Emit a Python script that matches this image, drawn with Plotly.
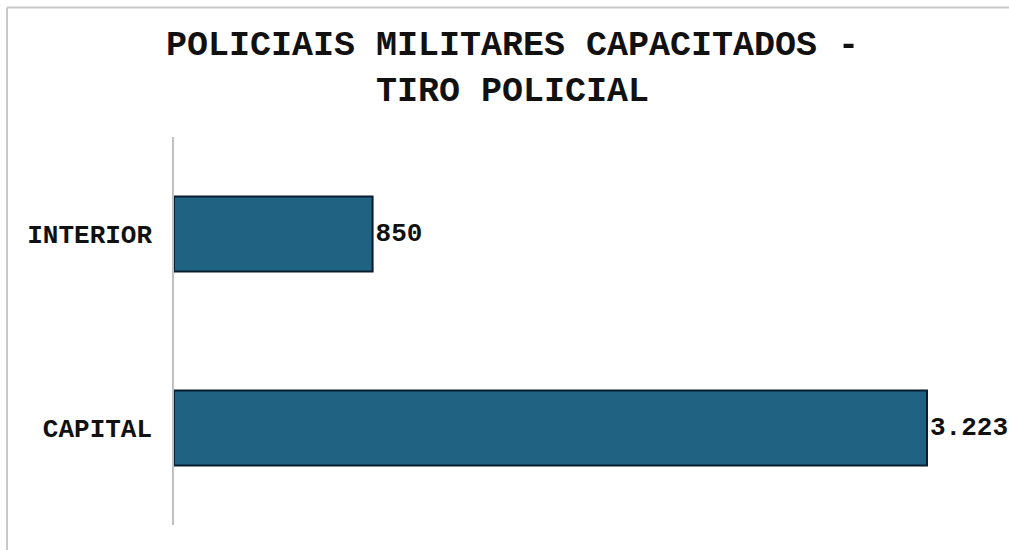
import plotly.graph_objects as go

categories = ["CAPITAL", "INTERIOR"]
values = [3223, 850]
title_lines = ["POLICIAIS MILITARES CAPACITADOS -", "TIRO POLICIAL"]

FONT = "Liberation Mono, Courier New, monospace"

fig = go.Figure(go.Bar(
    x=values, y=categories, orientation="h",
    width=0.387,
    marker=dict(color="#1F6282", line=dict(color="#0B1E30", width=2)),
    texttemplate="<b>%{x:,.0f}</b>", textposition="outside",
    textfont=dict(family=FONT, size=26, color="#111111"),
    cliponaxis=False,
))

fig.update_layout(
    width=1009, height=550,
    separators=",.",
    paper_bgcolor="white", plot_bgcolor="white",
    margin=dict(l=174, r=0, t=137, b=25, autoexpand=False),
    title=dict(text="<b>" + "<br>".join(title_lines) + "</b>",
               x=0.508, xanchor="center", y=0.9, yanchor="middle",
               font=dict(family=FONT, size=35, color="#111111")),
    xaxis=dict(range=[0, 3574], visible=False, showgrid=False),
    yaxis=dict(showline=True, linecolor="#C0C0C0", linewidth=1.5,
               ticks="", ticklabelstandoff=15,
               tickfont=dict(family=FONT, size=26, color="#111111", weight="bold"),
               showgrid=False, range=[-0.5, 1.5]),
    showlegend=False,
    shapes=[
        dict(type="line", xref="paper", yref="paper", x0=-0.2, x1=1.05, y0=1.334, y1=1.334,
             line=dict(color="#C8C8C8", width=2)),
        dict(type="line", xref="paper", yref="paper", x0=-0.2, x1=-0.2, y0=1.334, y1=-0.07,
             line=dict(color="#C8C8C8", width=2)),
    ],
)

fig.write_html("out.html", config={"displayModeBar": False},
               post_script="document.body.style.margin='0';document.body.style.padding='0';")
